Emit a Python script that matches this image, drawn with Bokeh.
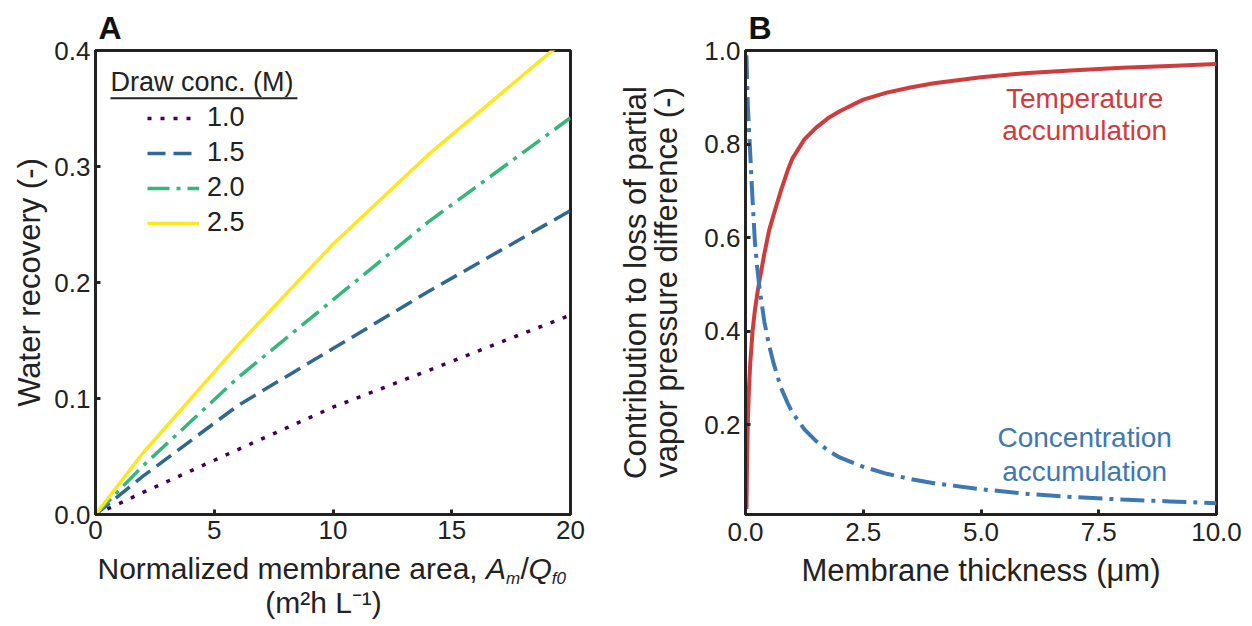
from bokeh.plotting import figure
from bokeh.layouts import row, column
from bokeh.models import (FixedTicker, PrintfTickFormatter, Legend, LegendItem,
                          Label, BoxAnnotation, Range1d)
from bokeh.core.properties import value
from bokeh.embed import file_html
from bokeh.resources import INLINE

# ---------------- Panel A data ----------------
area = [0, 2, 6, 10, 14, 20]
rec_10 = [0.0, 0.019, 0.056, 0.0925, 0.124, 0.172]
rec_15 = [0.0, 0.033, 0.094, 0.143, 0.192, 0.262]
rec_20 = [0.0, 0.042, 0.118, 0.185, 0.252, 0.342]
rec_25 = [0.0, 0.053, 0.146, 0.233, 0.310, 0.413]
conc_labels = ["1.0", "1.5", "2.0", "2.5"]
legend_title = "Draw conc. (M)"
a_xticks = [0, 5, 10, 15, 20]
a_yticks = [0.0, 0.1, 0.2, 0.3, 0.4]
a_xlabel_parts = ["Normalized membrane area, ", "A", "m", "/", "Q", "f0"]
a_xlabel_line2 = "(m²h L⁻¹)"

# ---------------- Panel B data ----------------
thick = [0.02, 0.03, 0.05, 0.075, 0.1, 0.15, 0.2, 0.25, 0.3, 0.4, 0.5, 0.6,
         0.75, 0.9, 1.0, 1.25, 1.5, 1.75, 2.0, 2.5, 3.0, 3.5, 4.0, 5.0, 6.0,
         7.0, 8.0, 9.0, 10.0]
temp_acc = [0.02, 0.10, 0.21, 0.28, 0.33, 0.40, 0.445, 0.48, 0.51, 0.565, 0.615,
            0.65, 0.70, 0.745, 0.77, 0.81, 0.835, 0.855, 0.87, 0.895, 0.91,
            0.921, 0.93, 0.943, 0.952, 0.958, 0.963, 0.967, 0.971]
conc_acc = [0.99, 0.95, 0.88, 0.83, 0.78, 0.68, 0.59, 0.535, 0.49, 0.42, 0.37,
            0.33, 0.28, 0.245, 0.225, 0.19, 0.165, 0.145, 0.13, 0.11, 0.095,
            0.084, 0.075, 0.062, 0.052, 0.045, 0.040, 0.036, 0.032]
b_xticks = [0.0, 2.5, 5.0, 7.5, 10.0]
b_yticks = [0.2, 0.4, 0.6, 0.8, 1.0]
temp_text = ["Temperature", "accumulation"]
conc_text = ["Concentration", "accumulation"]

FONT = "Liberation Sans"
INK = "#222222"
RED = "#d03b3b"
BLUE = "#3e78b2"


def style(p):
    p.grid.visible = False
    p.outline_line_color = INK
    p.outline_line_width = 3
    p.outline_line_alpha = 1
    p.background_fill_color = "white"
    p.border_fill_color = "white"
    for ax in p.xaxis + p.yaxis:
        ax.axis_line_color = INK
        ax.axis_line_width = 3
        ax.major_tick_line_color = INK
        ax.major_tick_line_width = 3
        ax.major_tick_in = 5
        ax.major_tick_out = 0
        ax.minor_tick_line_color = None
        ax.major_label_text_font = FONT
        ax.major_label_text_font_size = "26px"
        ax.major_label_text_color = INK
        ax.axis_label_text_font = FONT
        ax.axis_label_text_font_size = "31px"
        ax.axis_label_text_font_style = "normal"
        ax.axis_label_text_color = INK
    p.xaxis.major_label_standoff = 8
    p.yaxis.major_label_standoff = 5
    p.title.text_font = FONT
    p.title.text_font_size = "32px"
    p.title.text_font_style = "bold"
    p.title.text_color = "#111111"
    p.title.align = "left"
    p.title.offset = 3
    p.title.standoff = 10


# ================= Panel A =================
pA = figure(width=590, height=550, x_range=Range1d(0, 20), y_range=Range1d(0, 0.4),
            min_border_left=95, min_border_right=20, min_border_top=50,
            min_border_bottom=36, output_backend="svg", toolbar_location=None,
            title="A")
style(pA)
pA.xaxis.major_label_standoff = 6
pA.xaxis.ticker = FixedTicker(ticks=a_xticks)
pA.yaxis.ticker = FixedTicker(ticks=a_yticks)
pA.xaxis.formatter = PrintfTickFormatter(format="%d")
pA.yaxis.formatter = PrintfTickFormatter(format="%.1f")
pA.yaxis.axis_label = "Water recovery (-)"
pA.yaxis.axis_label_standoff = 4

series = [rec_10, rec_15, rec_20, rec_25]
colors = ["#440154", "#31688e", "#35b779", "#fde725"]
dashes = ["4 9", "18 8", "22 7 4 7", "solid"]
items = []
for lab, ys, c, d in zip(conc_labels, series, colors, dashes):
    r = pA.line(area, ys, line_color=c, line_width=3.5, line_dash=d)
    items.append(LegendItem(label=lab, renderers=[r]))

leg = Legend(items=items, location="top_left", margin=52, padding=0, spacing=4,
             label_height=30, glyph_height=30, glyph_width=52, label_standoff=8,
             background_fill_alpha=0, border_line_alpha=0,
             label_text_font=FONT, label_text_font_size="27px",
             label_text_color=INK)
pA.add_layout(leg)

pA.add_layout(Label(x=0, y=0.4, x_offset=15, y_offset=-31, text=legend_title,
                    text_font=FONT, text_font_size="27px", text_color=INK,
                    text_baseline="alphabetic", text_align="left"))
pA.add_layout(BoxAnnotation(left=0.632, right=8.5, bottom=0.3580, top=0.3598,
                            fill_color=INK, fill_alpha=1, line_alpha=0))

# strip below panel A carrying its two-line x-axis label (italic subscripts);
# its frame lines up with panel A's frame, so one x unit is one pixel
strip = figure(width=590, height=72, x_range=Range1d(95, 570), y_range=Range1d(0, 72),
               min_border=0, x_axis_type=None, y_axis_type=None,
               output_backend="svg", toolbar_location=None)
strip.grid.visible = False
strip.outline_line_color = None
strip.background_fill_color = "white"
strip.border_fill_color = "white"
strip.text(x=[97, 485.4, 505.4, 520, 528, 551.3], y=[54, 54, 44, 54, 54, 44],
           text=a_xlabel_parts, text_font=value(FONT),
           text_font_size=["30px", "30px", "17px", "30px", "30px", "17px"],
           text_font_style=["normal", "italic", "italic", "normal", "italic", "italic"],
           text_color=INK, text_baseline="alphabetic", text_align="left")
strip.text(x=[323], y=[20], text=[a_xlabel_line2], text_font=value(FONT),
           text_font_size="30px", text_color=INK, text_baseline="alphabetic",
           text_align="center")

# ================= Panel B =================
pB = figure(width=654, height=622, x_range=Range1d(0, 10), y_range=Range1d(0.008, 1.0),
            min_border_left=155, min_border_right=28, min_border_top=50,
            min_border_bottom=108, output_backend="svg", toolbar_location=None,
            title="B")
style(pB)
pB.xaxis.ticker = FixedTicker(ticks=b_xticks)
pB.yaxis.ticker = FixedTicker(ticks=b_yticks)
pB.xaxis.formatter = PrintfTickFormatter(format="%.1f")
pB.yaxis.formatter = PrintfTickFormatter(format="%.1f")
pB.xaxis.axis_label = "Membrane thickness (μm)"
pB.xaxis.axis_label_standoff = 9
pB.yaxis.axis_label = "Contribution to loss of partial\nvapor pressure difference (-)"
pB.yaxis.axis_label_standoff = 17
pB.yaxis.axis_label_text_line_height = 0.9

pB.line(thick, temp_acc, line_color=RED, line_width=4)
pB.line(thick, conc_acc, line_color=BLUE, line_width=4, line_dash="24 7 4 7")

for txt, yv in zip(temp_text, [0.897, 0.828]):
    pB.add_layout(Label(x=7.2, y=yv, text=txt, text_font=FONT, text_font_size="28px",
                        text_color=RED, text_align="center", text_baseline="alphabetic"))
for txt, yv in zip(conc_text, [0.173, 0.100]):
    pB.add_layout(Label(x=7.2, y=yv, text=txt, text_font=FONT, text_font_size="28px",
                        text_color=BLUE, text_align="center", text_baseline="alphabetic"))

layout = row(column(pA, strip), pB)
open("out.html", "w").write(file_html(layout, INLINE))
